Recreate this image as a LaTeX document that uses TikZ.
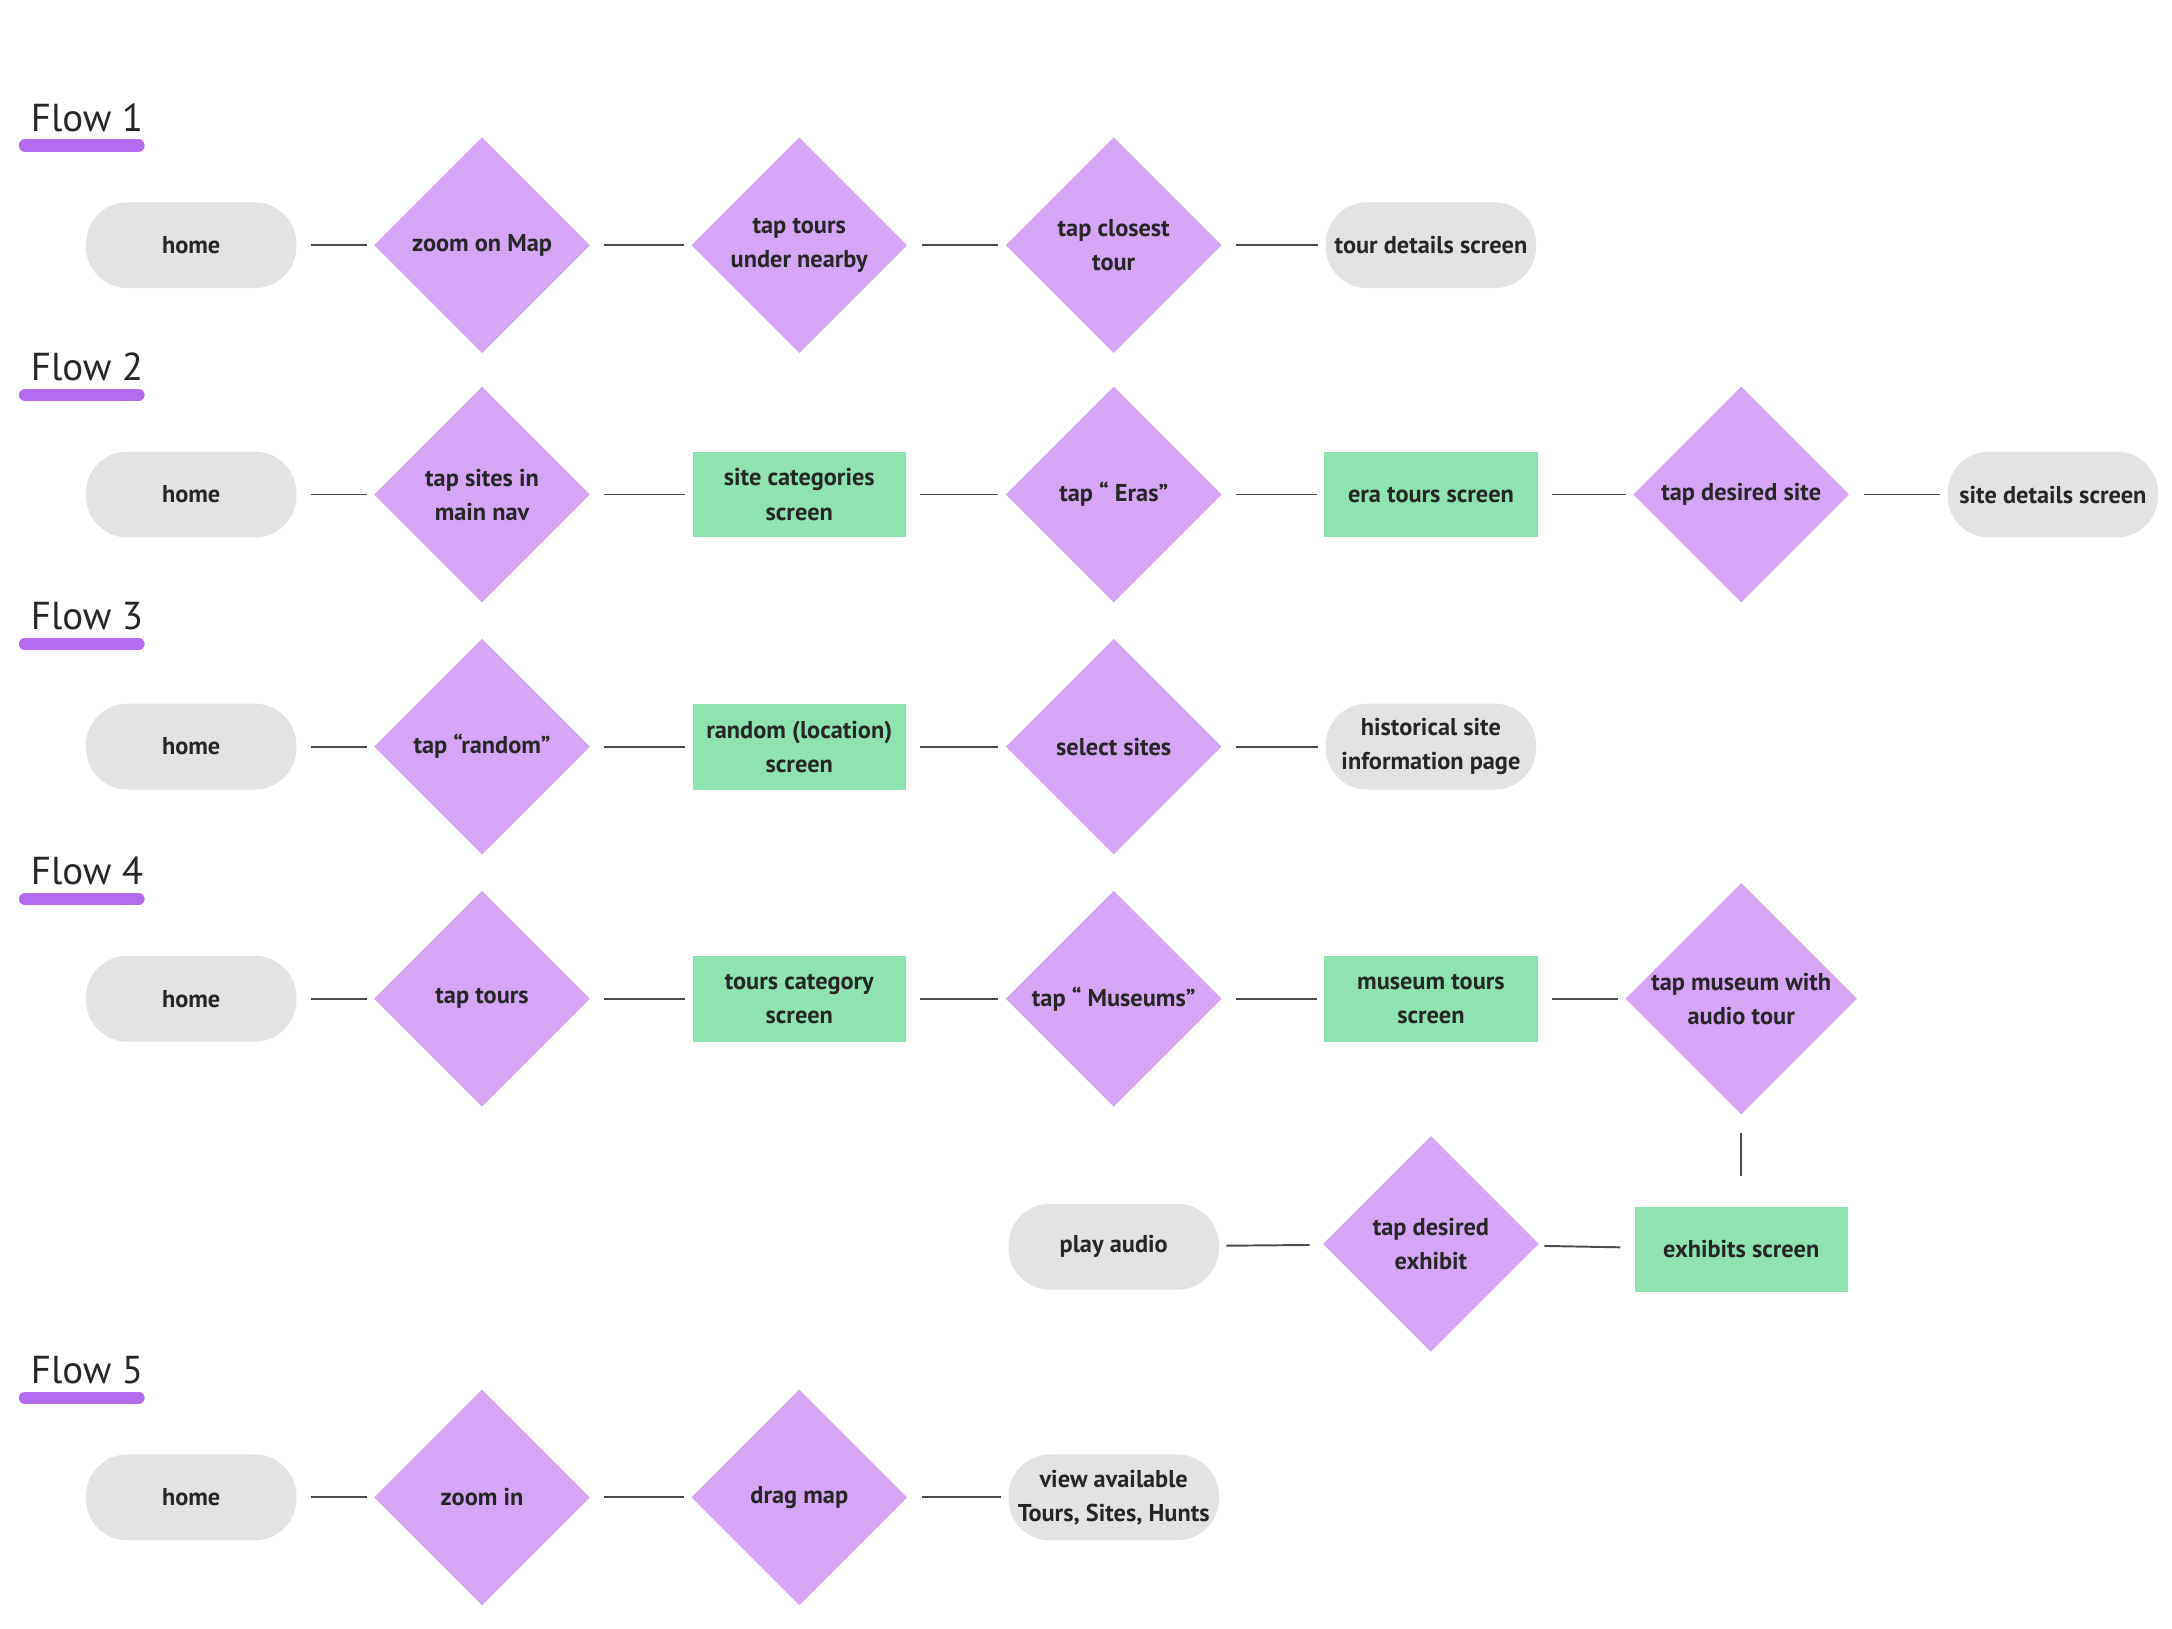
\documentclass[tikz,border=0pt]{standalone}
\usepackage{fontspec}
\setmainfont{PT Sans}
\usetikzlibrary{shapes.geometric}
\definecolor{pillgray}{HTML}{E3E3E3}
\definecolor{diapurple}{HTML}{D4A6F5}
\definecolor{scrgreen}{HTML}{8EE3B0}
\definecolor{barpurple}{HTML}{B36CF0}
\begin{document}
\begin{tikzpicture}[x=0.02cm, y=-0.02cm,
    every node/.style={font=\bfseries\fontsize{10}{14}\selectfont, align=center, text=black!85},
    pill/.style={fill=pillgray, rounded corners=0.6cm, minimum width=3.04cm, minimum height=1.24cm},
    dia/.style={diamond, fill=diapurple, minimum width=3.12cm, minimum height=3.12cm, inner sep=0pt},
    scr/.style={fill=scrgreen, minimum width=3.08cm, minimum height=1.24cm},
    link/.style={draw=black!70, line width=0.8pt, shorten <=0.2cm, shorten >=0.1cm},
    flow/.style={font=\fontsize{16}{18}\selectfont, anchor=west, inner sep=0pt}]
    \useasboundingbox (0, 0) rectangle (1568, 1176);

    % flow titles
    \foreach \n/\y in {1/85, 2/265, 3/445, 4/629, 5/989} {
        \node[flow] (flow\n) at (22, \y) {Flow \n};
        \draw[barpurple, line width=5pt, line cap=round] (18, \y+20) -- (100, \y+20);
    }

    % flow 1
    \node[pill] (a1) at (138, 177) {home};
    \node[dia] (a2) at (348, 177) {zoom on Map};
    \node[dia] (a3) at (577, 177) {tap tours\\under nearby};
    \node[dia] (a4) at (804, 177) {tap closest\\tour};
    \node[pill] (a5) at (1033, 177) {tour details screen};
    \foreach \i/\j in {a1/a2, a2/a3, a3/a4, a4/a5} \draw[link] (\i) -- (\j);

    % flow 2
    \node[pill] (b1) at (138, 357) {home};
    \node[dia] (b2) at (348, 357) {tap sites in\\main nav};
    \node[scr] (b3) at (577, 357) {site categories\\screen};
    \node[dia] (b4) at (804, 357) {tap “ Eras”};
    \node[scr] (b5) at (1033, 357) {era tours screen};
    \node[dia] (b6) at (1257, 357) {tap desired site};
    \node[pill] (b7) at (1482, 357) {site details screen};
    \foreach \i/\j in {b1/b2, b2/b3, b3/b4, b4/b5, b5/b6, b6/b7} \draw[link] (\i) -- (\j);

    % flow 3
    \node[pill] (c1) at (138, 539) {home};
    \node[dia] (c2) at (348, 539) {tap “random”};
    \node[scr] (c3) at (577, 539) {random (location)\\screen};
    \node[dia] (c4) at (804, 539) {select sites};
    \node[pill] (c5) at (1033, 539) {historical site\\information page};
    \foreach \i/\j in {c1/c2, c2/c3, c3/c4, c4/c5} \draw[link] (\i) -- (\j);

    % flow 4
    \node[pill] (d1) at (138, 721) {home};
    \node[dia] (d2) at (348, 721) {tap tours};
    \node[scr] (d3) at (577, 721) {tours category\\screen};
    \node[dia] (d4) at (804, 721) {tap “ Museums”};
    \node[scr] (d5) at (1033, 721) {museum tours\\screen};
    \node[dia] (d6) at (1257, 721) {tap museum with\\audio tour};
    \node[scr] (d7) at (1257, 902) {exhibits screen};
    \node[dia] (d8) at (1033, 898) {tap desired\\exhibit};
    \node[pill] (d9) at (804, 900) {play audio};
    \foreach \i/\j in {d1/d2, d2/d3, d3/d4, d4/d5, d5/d6, d7/d8, d8/d9} \draw[link] (\i) -- (\j);
    \draw[link, shorten <=0.26cm, shorten >=0.44cm] (d6) -- (d7);

    % flow 5
    \node[pill] (e1) at (138, 1081) {home};
    \node[dia] (e2) at (348, 1081) {zoom in};
    \node[dia] (e3) at (577, 1081) {drag map};
    \node[pill] (e4) at (804, 1081) {view available\\Tours, Sites, Hunts};
    \foreach \i/\j in {e1/e2, e2/e3, e3/e4} \draw[link] (\i) -- (\j);
\end{tikzpicture}
\end{document}
